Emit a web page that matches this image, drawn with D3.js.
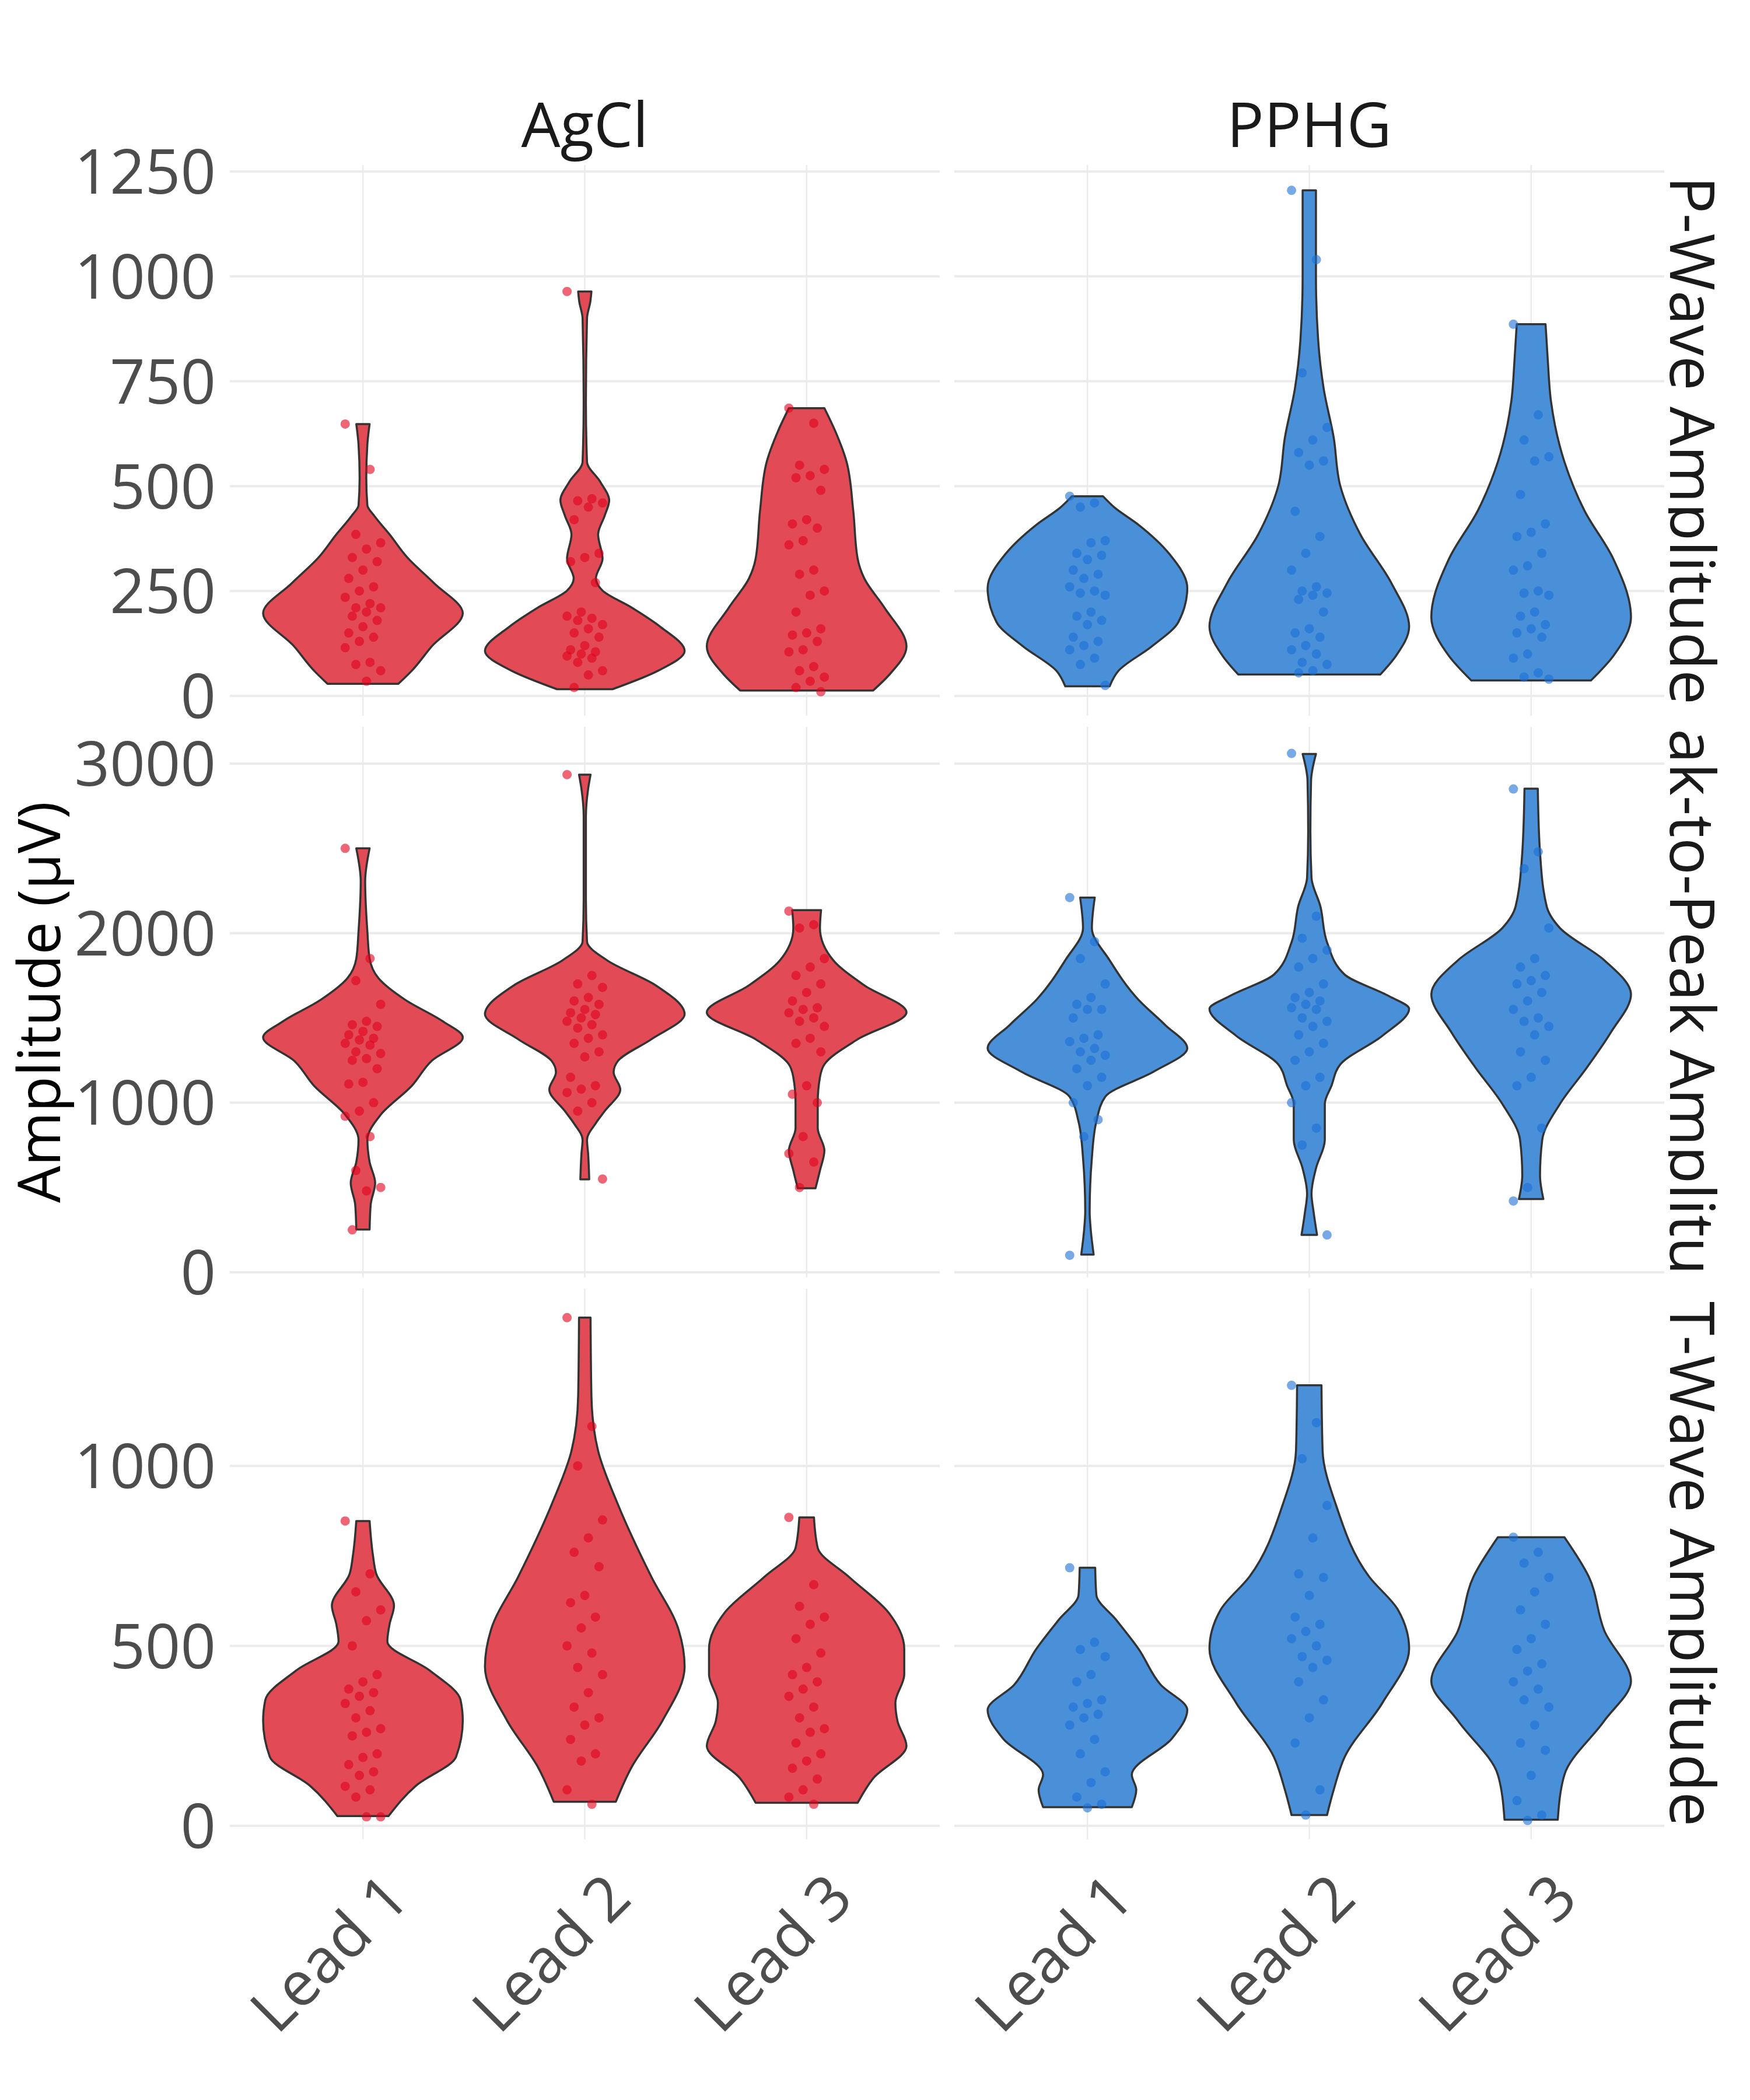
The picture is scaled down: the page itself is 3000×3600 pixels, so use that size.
<!DOCTYPE html>
<html>
<head>
<meta charset="utf-8">
<script src="https://cdn.jsdelivr.net/npm/d3@7"></script>
<style>body{margin:0;background:#fff;} text{font-family:"Open Sans",sans-serif;}</style>
</head>
<body>
<script>
const leads = ["Lead 1", "Lead 2", "Lead 3"];
const electrodes = ["AgCl", "PPHG"];
const measures = ["P-Wave Amplitude", "Peak-to-Peak Amplitude", "T-Wave Amplitude"];
const yTicks = [[0, 250, 500, 750, 1000, 1250], [0, 1000, 2000, 3000], [0, 500, 1000]];
const yDomains = [[0, 1250], [0, 3000], [0, 1000]];

// violin outlines: [value, half-width in category units]
const violinP_AgCl = [
  [[29,0.16],[60,0.22],[118,0.31],[197,0.45],[269,0.32],[330,0.2],[385,0.12],[430,0.05],[454,0.02],[520,0.015],[600,0.02],[648,0.03]],
  [[16,0.125],[60,0.33],[107,0.45],[165,0.34],[211,0.21],[251,0.08],[280,0.05],[327,0.08],[385,0.06],[430,0.09],[466,0.11],[510,0.07],[558,0.01],[700,0.005],[900,0.01],[940,0.025],[964,0.03]],
  [[13,0.3],[49,0.37],[118,0.45],[211,0.35],[280,0.26],[327,0.23],[442,0.21],[558,0.18],[630,0.13],[686,0.08]]
];
const violinP_PPHG = [
  [[23,0.1],[60,0.14],[118,0.29],[176,0.41],[257,0.45],[338,0.37],[408,0.23],[450,0.12],[476,0.07]],
  [[51,0.32],[95,0.39],[165,0.45],[269,0.37],[385,0.23],[500,0.14],[616,0.11],[732,0.065],[848,0.04],[1000,0.03],[1205,0.03]],
  [[37,0.27],[95,0.37],[188,0.45],[327,0.37],[442,0.24],[558,0.15],[700,0.09],[800,0.075],[886,0.065]]
];
const violinPP_AgCl = [
  [[252,0.03],[400,0.035],[527,0.055],[650,0.03],[781,0.02],[929,0.08],[1099,0.22],[1247,0.31],[1385,0.45],[1480,0.36],[1607,0.19],[1734,0.07],[1850,0.03],[2009,0.02],[2306,0.01],[2500,0.03]],
  [[548,0.02],[700,0.015],[781,0.01],[880,0.05],[951,0.09],[1078,0.16],[1180,0.13],[1247,0.15],[1374,0.3],[1522,0.45],[1692,0.32],[1840,0.1],[1950,0.01],[2200,0.005],[2687,0.005],[2850,0.015],[2935,0.026]],
  [[495,0.04],[600,0.06],[718,0.08],[850,0.05],[1000,0.05],[1150,0.06],[1226,0.08],[1374,0.23],[1533,0.45],[1692,0.26],[1840,0.12],[2030,0.06],[2136,0.065]]
];
const violinPP_PPHG = [
  [[104,0.028],[250,0.015],[358,0.01],[675,0.02],[887,0.04],[1035,0.08],[1184,0.3],[1321,0.45],[1459,0.35],[1607,0.23],[1840,0.1],[2030,0.02],[2210,0.033]],
  [[220,0.035],[350,0.02],[464,0.01],[612,0.03],[781,0.07],[993,0.07],[1100,0.1],[1226,0.14],[1395,0.33],[1554,0.45],[1628,0.36],[1755,0.16],[1946,0.08],[2158,0.05],[2327,0.01],[2600,0.005],[2900,0.008],[3057,0.03]],
  [[432,0.055],[570,0.04],[781,0.05],[993,0.13],[1205,0.25],[1416,0.36],[1639,0.45],[1840,0.33],[2030,0.13],[2158,0.07],[2475,0.04],[2852,0.03]]
];
const violinT_AgCl = [
  [[27,0.115],[112,0.24],[192,0.42],[292,0.45],[350,0.44],[432,0.3],[512,0.11],[560,0.12],[612,0.14],[700,0.06],[752,0.045],[847,0.03]],
  [[67,0.14],[162,0.21],[292,0.35],[442,0.45],[550,0.42],[692,0.3],[892,0.15],[1042,0.06],[1192,0.03],[1412,0.026]],
  [[64,0.23],[132,0.3],[222,0.45],[290,0.41],[342,0.4],[420,0.44],[492,0.44],[592,0.37],[692,0.19],[772,0.05],[857,0.033]]
];
const violinT_PPHG = [
  [[52,0.2],[100,0.22],[142,0.2],[242,0.38],[322,0.45],[392,0.33],[492,0.23],[572,0.13],[642,0.04],[717,0.035]],
  [[30,0.08],[100,0.11],[192,0.16],[342,0.33],[492,0.45],[600,0.4],[692,0.27],[892,0.12],[1042,0.06],[1224,0.055]],
  [[17,0.12],[142,0.15],[292,0.33],[402,0.45],[542,0.33],[692,0.26],[802,0.15]]
];

// individual observations
const pointsP_AgCl = [
  [648,540,385,365,350,330,320,300,280,260,250,235,220,210,210,200,190,180,165,150,140,130,115,80,75,60,35],
  [964,470,465,460,450,420,340,330,320,270,200,190,185,180,170,160,150,140,120,110,105,100,95,90,80,60,50,20],
  [686,650,550,540,525,520,490,420,410,400,370,360,300,290,250,240,200,160,150,145,130,110,105,70,60,45,35,20,10]
];
const pointsP_PPHG = [
  [476,460,450,370,365,340,335,325,300,290,280,260,250,245,240,200,190,180,170,140,130,120,110,90,75,25],
  [1205,1040,770,640,610,580,560,550,440,380,340,300,260,250,245,240,230,200,160,150,140,120,110,100,80,75,60,55],
  [886,670,610,570,560,480,410,390,380,340,310,300,250,245,240,200,190,170,160,150,140,100,90,55,45,40]
];
const pointsPP_AgCl = [
  [2500,1850,1720,1580,1480,1460,1450,1420,1400,1380,1370,1350,1340,1300,1290,1260,1250,1200,1120,1110,1000,950,920,800,600,500,480,250],
  [2935,1750,1700,1680,1620,1600,1580,1550,1530,1520,1500,1480,1460,1440,1400,1380,1350,1300,1270,1150,1100,1080,1060,1000,950,550],
  [2130,2050,2030,1850,1800,1750,1700,1650,1600,1560,1550,1530,1500,1480,1450,1380,1350,1300,1100,1050,1000,800,700,650,500]
];
const pointsPP_PPHG = [
  [2210,1950,1850,1700,1620,1580,1550,1550,1500,1400,1380,1360,1320,1300,1280,1250,1200,1150,1100,1000,900,800,100],
  [3060,2100,1970,1900,1850,1800,1700,1650,1620,1600,1580,1560,1550,1500,1480,1450,1400,1350,1300,1250,1150,1100,1000,850,750,220],
  [2850,2480,2380,2030,1850,1800,1750,1720,1700,1650,1600,1550,1500,1480,1450,1400,1300,1250,1150,1100,850,500,420]
];
const pointsT_AgCl = [
  [847,700,650,600,570,500,420,400,380,370,360,340,320,300,270,260,250,200,190,170,150,140,110,100,80,25,25],
  [1412,1110,1000,850,800,760,720,640,620,580,550,500,480,440,420,370,330,300,280,240,200,180,100,60],
  [857,670,610,580,560,520,480,440,420,400,380,360,330,300,270,260,230,200,180,160,130,100,80,60]
];
const pointsT_PPHG = [
  [717,510,490,470,420,400,350,340,330,310,300,280,240,200,150,120,80,60,50],
  [1224,1120,1020,890,800,700,690,640,580,560,540,520,500,470,460,440,400,350,300,230,100,30],
  [802,760,730,690,650,600,560,520,490,450,430,400,380,350,330,280,230,210,140,70,30,15]
];

const violins = [[violinP_AgCl, violinP_PPHG], [violinPP_AgCl, violinPP_PPHG], [violinT_AgCl, violinT_PPHG]];
const points = [[pointsP_AgCl, pointsP_PPHG], [pointsPP_AgCl, pointsPP_PPHG], [pointsT_AgCl, pointsT_PPHG]];

const width = 3000, height = 3600;
const colX = [[394, 1611], [1636, 2853]];
const rowY = [[283, 1227], [1246, 2190], [2209, 3153]];
const yRanges = [[1193, 294], [2181, 1309], [3130, 2513]];
const fills = ["#e24b55", "#4a90d9"];
const dots = ["#e3001b", "#1a6fd6"];

const svg = d3.select("body").append("svg").attr("width", width).attr("height", height);
const defs = svg.append("defs");

measures.forEach((m, r) => {
  const y = d3.scaleLinear().domain(yDomains[r]).range(yRanges[r]);

  // y tick labels on left
  svg.append("g").selectAll("text").data(yTicks[r]).join("text")
     .attr("x", 370).attr("y", d => y(d)).attr("dy", "0.36em")
     .attr("text-anchor", "end").attr("font-size", 106).attr("fill", "#4d4d4d")
     .text(d => d);

  electrodes.forEach((e, c) => {
    const x = d3.scalePoint().domain(leads).range(colX[c]).padding(0.6);
    const step = x.step();
    const g = svg.append("g");

    g.selectAll(".hg").data(yTicks[r]).join("line")
     .attr("x1", colX[c][0]).attr("x2", colX[c][1])
     .attr("y1", d => y(d)).attr("y2", d => y(d))
     .attr("stroke", "#ebebeb").attr("stroke-width", 4);
    g.selectAll(".vg").data(leads).join("line")
     .attr("x1", d => x(d)).attr("x2", d => x(d))
     .attr("y1", rowY[r][0]).attr("y2", rowY[r][1])
     .attr("stroke", "#ebebeb").attr("stroke-width", 2.5);

    leads.forEach((l, i) => {
      const cx = x(l);
      const prof = violins[r][c][i];
      const area = d3.area()
        .y(d => y(d[0]))
        .x0(d => cx - d[1] * step)
        .x1(d => cx + d[1] * step)
        .curve(d3.curveMonotoneY);
      g.append("path").attr("d", area(prof))
       .attr("fill", fills[c]).attr("stroke", "#333").attr("stroke-width", 3.5)
       .attr("stroke-linejoin", "round");

      const pts = points[r][c][i];
      g.selectAll(null).data(pts).join("circle")
       .attr("cx", (d, k) => cx + (((k * 7) % 11) - 5) / 5 * 0.08 * step)
       .attr("cy", d => y(d))
       .attr("r", 8)
       .attr("fill", dots[c]).attr("fill-opacity", 0.6);
    });

    if (r === 0) {
      svg.append("text").attr("x", (colX[c][0] + colX[c][1]) / 2).attr("y", 252)
         .attr("text-anchor", "middle").attr("font-size", 106).attr("fill", "#1a1a1a").text(e);
    }
    if (r === 2) {
      svg.append("g").selectAll("text").data(leads).join("text")
         .attr("transform", d => `translate(${x(d) + 20},${3195}) rotate(-45)`)
         .attr("text-anchor", "end").attr("dominant-baseline", "hanging")
         .attr("font-size", 106).attr("fill", "#4d4d4d").text(d => d);
    }
  });

  // right strip label, clipped to panel height
  const cid = "clip" + r;
  defs.append("clipPath").attr("id", cid).append("rect")
      .attr("x", 2860).attr("y", rowY[r][0]).attr("width", 140).attr("height", rowY[r][1] - rowY[r][0]);
  svg.append("g").attr("clip-path", `url(#${cid})`).append("text")
     .attr("transform", `translate(2900,${(rowY[r][0] + rowY[r][1]) / 2}) rotate(90)`)
     .attr("text-anchor", "middle").attr("dy", "0.35em")
     .attr("font-size", 106).attr("fill", "#1a1a1a").text(m);
});

svg.append("text")
   .attr("transform", `translate(68,${(rowY[1][0] + rowY[1][1]) / 2}) rotate(-90)`)
   .attr("text-anchor", "middle").attr("dy", "0.35em")
   .attr("font-size", 100).attr("fill", "#000").text("Amplitude (µV)");
</script>
</body>
</html>
